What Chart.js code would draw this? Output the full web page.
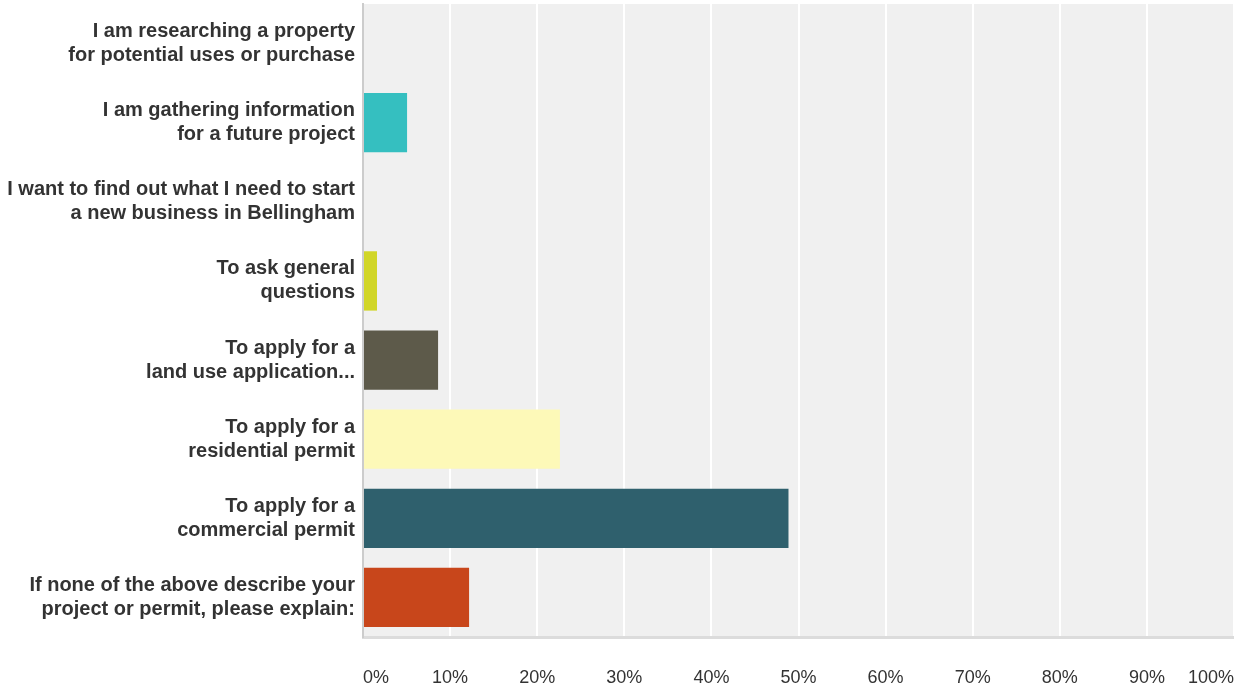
<!DOCTYPE html>
<html lang="en">
<head>
  <meta charset="UTF-8">
  <title>Reasons for contacting permit center</title>
  <script src="https://cdn.jsdelivr.net/npm/chart.js"></script>
  <style>
    html, body { margin: 0; padding: 0; background: #fff; }
    #wrap { width: 1234px; height: 684px; }
  </style>
</head>
<body>
  <div id="wrap"><canvas id="answerChart" width="1234" height="684"></canvas></div>

  <script>
    // answer choices (two lines each, as shown on the axis)
    const categories = [
      ['I am researching a property', 'for potential uses or purchase'],
      ['I am gathering information', 'for a future project'],
      ['I want to find out what I need to start', 'a new business in Bellingham'],
      ['To ask general', 'questions'],
      ['To apply for a', 'land use application...'],
      ['To apply for a', 'residential permit'],
      ['To apply for a', 'commercial permit'],
      ['If none of the above describe your', 'project or permit, please explain:']
    ];

    // share of responses, percent
    const responses = [0, 5.06, 0, 1.61, 8.62, 22.61, 48.85, 12.18];

    const barColors = ['#35bfc0', '#35bfc0', '#f2a93b', '#d1d628', '#5d5a4a', '#fdf9b8', '#2f606d', '#c8461b'];

    const xTicks = [0, 10, 20, 30, 40, 50, 60, 70, 80, 90, 100];

    // grey panel behind the bars
    const plotBackground = {
      id: 'plotBackground',
      beforeDraw(chart) {
        const { ctx, chartArea: a } = chart;
        ctx.save();
        ctx.fillStyle = '#f0f0f0';
        ctx.fillRect(a.left, a.top, a.right - a.left, a.bottom - a.top);
        ctx.restore();
      }
    };

    const ctx = document.getElementById('answerChart').getContext('2d');
    new Chart(ctx, {
      type: 'bar',
      data: {
        labels: categories,
        datasets: [{
          data: responses,
          backgroundColor: barColors,
          barPercentage: 0.75,
          categoryPercentage: 1
        }]
      },
      options: {
        indexAxis: 'y',
        responsive: false,
        animation: false,
        layout: { padding: { top: 4, right: 0, bottom: 0, left: 0 } },
        plugins: {
          legend: { display: false },
          tooltip: { enabled: false }
        },
        scales: {
          x: {
            min: 0,
            max: 100,
            afterBuildTicks(scale) {
              scale.ticks = xTicks.map(v => ({ value: v }));
            },
            afterFit(scale) {
              scale.height = 47;
              scale.paddingLeft = 0;
              scale.paddingRight = 0;
            },
            grid: { color: '#ffffff', lineWidth: 2, drawTicks: false },
            border: { color: '#dcdcdc', width: 3 },
            ticks: {
              align: 'inner',
              maxRotation: 0,
              padding: 30,
              color: '#333333',
              font: { family: 'Helvetica, Arial, "Liberation Sans", sans-serif', size: 18 },
              callback: v => v + '%'
            }
          },
          y: {
            afterFit(scale) {
              scale.width = 363;
              scale.paddingTop = 0;
              scale.paddingBottom = 0;
            },
            grid: { display: false, drawTicks: false },
            border: { color: '#cccccc', width: 2 },
            ticks: {
              padding: 8,
              color: '#333333',
              font: { family: 'Helvetica, Arial, "Liberation Sans", sans-serif', size: 20, weight: 'bold', lineHeight: 1.2 }
            }
          }
        }
      },
      plugins: [plotBackground]
    });
  </script>
</body>
</html>
